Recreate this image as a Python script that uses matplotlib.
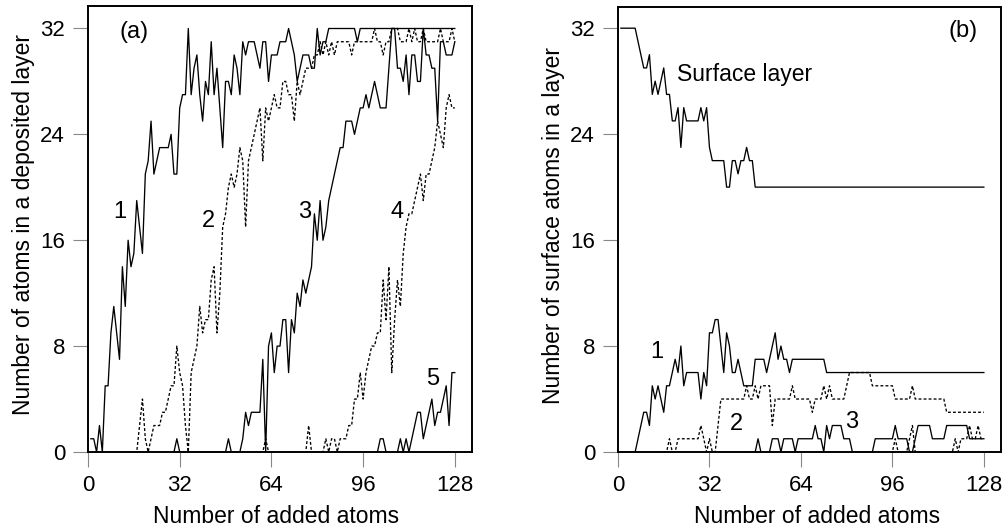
import numpy as np
import matplotlib
matplotlib.use("Agg")
import matplotlib.pyplot as plt

plt.rcParams['font.family'] = ['Liberation Sans', 'DejaVu Sans']

# ---------------- data: panel (a) atoms in deposited layers ----------------
a1_start = 1
a1 = [1, 1, 0, 2, 0, 5, 5, 9, 11, 9, 7, 14, 11, 16, 14, 15, 19, 17, 15,          # 1-19
      21, 22, 25, 21, 22, 23, 23, 23, 23, 24, 21, 21,                           # 20-31
      26, 27, 27, 32, 27, 29, 30, 27, 25, 28, 27, 31,                           # 32-43
      27, 29, 26, 23, 28, 28, 27, 30, 29, 27, 31, 30, 31, 31, 31, 30, 29, 31,   # 44-61
      31, 28, 30, 30, 30, 31, 31, 31, 32, 31, 30, 28, 29, 30, 30, 30, 29, 29,   # 62-79
      32, 30, 31, 31] + [32] * 10 + [31] + [32] * 34                            # 80-128

a2_start = 16
a2 = [0, 0, 2, 4, 1, 0, 1, 2, 2, 2, 3, 3, 4, 5, 5, 8, 6, 5, 2, 0,               # 16-35
      6, 7, 8, 11, 9, 10, 10, 13, 14, 9, 12, 17, 18, 20, 21, 20, 21, 23, 22,    # 36-54
      17, 22, 23, 24, 25, 26, 22, 26, 25, 26, 27, 26, 26, 28, 28, 27, 27, 25,   # 55-72
      28, 27, 28, 29, 29, 29, 30, 30, 31, 30, 31, 30, 31, 30,                   # 73-86
      31, 31, 31, 31, 31, 30, 31, 31, 31, 31, 31, 31, 31, 32, 31, 31, 30, 31,   # 87-104
      31, 32, 32, 32, 31, 31, 31, 32, 31, 32, 31, 31, 32, 31, 31, 31, 31, 31,   # 105-122
      32, 31, 31, 31, 32, 31]                                                   # 123-128

a3_start = 29
a3 = [0, 0, 1, 0] + [0] * 16 + [1, 0, 0, 0,                                    # 29-52
      0, 1, 3, 2, 3, 3, 3, 3, 7, 0, 8, 9, 6, 8, 8, 10, 10, 6, 10, 9,            # 53-72
      12, 11, 13, 12, 13, 14, 18, 16, 19, 16, 17, 19, 20, 21, 22, 23, 23,       # 73-89
      25, 25, 25, 24, 25, 26, 26, 27, 26, 27, 28, 27, 26, 26, 26, 29,           # 90-105
      32, 32, 29, 29, 28, 30, 27, 30, 30, 28, 28, 32, 30, 30, 29, 29, 25,       # 106-122
      31, 31, 30, 30, 30, 31]                                                   # 123-128

a4_start = 60
a4 = [0, 0, 1, 0] + [0] * 13 + [2, 0, 0, 0, 0, 0,                              # 60-82
      1, 0, 1, 1, 0, 1, 1, 1, 2, 2, 4, 4, 6, 4, 6, 7, 8, 8, 9, 9,               # 83-102
      13, 10, 14, 6, 10, 13, 11, 15, 17, 18, 18, 19, 20, 21, 19, 21, 21,        # 103-119
      22, 23, 25, 24, 23, 26, 27, 26, 26]                                       # 120-128

a5_start = 100
a5 = [0, 0, 1, 1, 0, 0, 0, 0, 0, 1, 0, 1, 0, 1, 2, 3, 3, 1, 2, 3,               # 100-119
      4, 2, 3, 3, 4, 5, 2, 6, 6]                                                # 120-128

# ---------------- data: panel (b) surface atoms in a layer ----------------
b0_start = 1
b0 = [32, 32, 32, 32, 32, 32, 31, 30, 29, 29, 30, 27, 28, 27, 28, 29, 27, 27,   # 1-18
      25, 25, 26, 23, 26, 25, 25, 25, 25, 25, 26, 25, 26, 23, 22, 22, 22, 22,   # 19-36
      22, 20, 20, 22, 22, 21, 22, 22, 23, 22, 22] + [20] * 81                   # 37-128

b1_start = 0
b1 = [0, 0, 0, 0, 0, 0, 0, 1, 2, 3, 3, 2, 5, 4, 5, 4, 3, 5, 5, 6, 7, 6, 8, 5,   # 0-23
      6, 6, 6, 6, 6, 4, 6, 5, 9, 9, 10, 10, 8, 6, 9, 8, 6, 6, 7, 6, 5, 5, 5, 5,  # 24-47
      7, 7, 7, 7, 6, 7, 8, 9, 7, 8, 7, 7, 6] + [7] * 12 + [6] * 56              # 48-128

b2_start = 16
b2 = [0, 0, 1, 0, 0, 1, 1, 1, 1, 1, 1, 1, 1, 2, 1, 0, 1, 0, 0, 2,               # 16-35
      4, 4, 4, 4, 4, 4, 4, 4, 4, 5, 4, 4, 5, 4, 5, 5, 5, 5, 2, 4,               # 36-55
      4, 4, 4, 4, 4, 5, 4, 4, 4, 4, 4, 4, 3, 4, 4, 4, 5, 4, 5, 4,               # 56-75
      4, 4, 4, 4, 5, 6, 6, 6, 6, 6, 6, 6, 6, 5, 5, 5, 5, 5, 5, 5,               # 76-95
      5, 4, 4, 4, 4, 4, 4, 5, 4] + [4] * 10 + [3] * 14                          # 96-128

b3_start = 47
b3 = [0, 0, 1, 0, 0, 0, 0, 1, 1, 1, 0, 1, 1, 1, 1, 0, 1, 1, 1, 1, 1, 1,        # 47-68
      2, 1, 1, 0, 2, 1, 2, 2, 2, 2, 1, 1, 1, 0, 0, 0, 0, 0, 0, 0, 0,            # 69-89
      1, 1, 1, 1, 1, 1, 1, 2, 1, 1, 1, 1, 0, 0, 1, 2, 2, 2, 2, 2,               # 90-109
      1, 1, 1, 1, 1, 2, 2, 2, 2, 2, 2, 2, 2, 1, 1, 1, 1, 1, 1]                  # 110-128

b4_start = 95
b4 = [0, 0, 1, 0, 0, 0, 0, 1, 2, 0, 0, 0, 0, 0, 0, 0, 0, 0, 0, 0,               # 95-114
      0, 0, 0, 1, 0, 1, 1, 1, 2, 1, 1, 2, 1, 1]                                 # 115-128

x_ticks = [0, 32, 64, 96, 128]
y_ticks = [0, 8, 16, 24, 32]
xlabel = "Number of added atoms"
ylabel_a = "Number of atoms in a deposited layer"
ylabel_b = "Number of surface atoms in a layer"

# ---------------- drawing ----------------
W, H = 1008, 530
fig = plt.figure(figsize=(W / 100, H / 100), dpi=100)
ax_a = fig.add_axes([88 / W, 1 - 452 / H, 384 / W, 446 / H])
ax_b = fig.add_axes([618 / W, 1 - 452 / H, 383 / W, 445 / H])

solid = dict(color='black', lw=0.95, ls='-')
dashed = dict(color='black', lw=0.95, ls=(0, (2.2, 1.6)))


def series(ax, start, vals, style):
    xs = np.arange(start, start + len(vals))
    ax.plot(xs, vals, **style)


series(ax_a, a1_start, a1, solid)
series(ax_a, a2_start, a2, dashed)
series(ax_a, a3_start, a3, solid)
series(ax_a, a4_start, a4, dashed)
series(ax_a, a5_start, a5, solid)

series(ax_b, b0_start, b0, solid)
series(ax_b, b1_start, b1, solid)
series(ax_b, b2_start, b2, dashed)
series(ax_b, b3_start, b3, solid)
series(ax_b, b4_start, b4, dashed)

fs = 16
for ax, top in ((ax_a, 33.7), (ax_b, 33.6)):
    ax.set_xlim(0, 134)
    ax.set_ylim(0, top)
    ax.set_xticks(x_ticks)
    ax.set_yticks(y_ticks)
    ax.tick_params(direction='out', length=11, width=0.8, color='#888888',
                   labelsize=fs, pad=5.5, labelcolor='black')
    for s in ax.spines.values():
        s.set_linewidth(1.4)
        s.set_color('black')
    ax.set_xlabel(xlabel, fontsize=fs + 0.5)
    ax.xaxis.set_label_coords(0.49 if ax is ax_a else 0.52, -0.118)

ax_a.set_ylabel(ylabel_a, fontsize=fs + 0.5)
ax_a.yaxis.set_label_coords(-0.139, 0.51)
ax_b.set_ylabel(ylabel_b, fontsize=fs + 0.5)
ax_b.yaxis.set_label_coords(-0.138, 0.51)

lab = dict(fontsize=17, ha='center', va='baseline')
ax_a.text(16.2, 31.75, "(a)", fontsize=17, ha='center', va='center')
ax_a.text(11.0, 17.7, "1", **lab)
ax_a.text(42.2, 17.0, "2", **lab)
ax_a.text(75.5, 17.7, "3", **lab)
ax_a.text(107.8, 17.7, "4", **lab)
ax_a.text(120.4, 5.1, "5", **lab)

ax_b.text(120.9, 31.8, "(b)", fontsize=17, ha='center', va='center')
ax_b.text(20.5, 28.0, "Surface layer", fontsize=16.5, ha='left', va='baseline')
ax_b.text(13.5, 7.1, "1", **lab)
ax_b.text(41.3, 1.66, "2", **lab)
ax_b.text(81.6, 1.8, "3", **lab)

fig.savefig("out.png", dpi=100)
